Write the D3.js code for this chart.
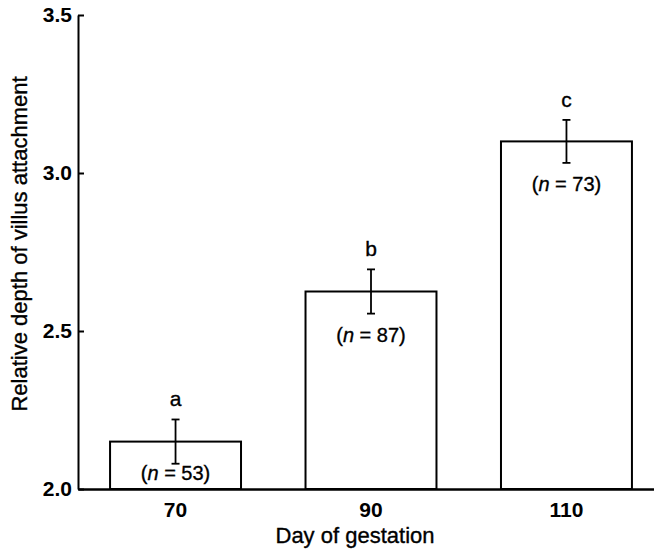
<!DOCTYPE html>
<html>
<head>
<meta charset="utf-8">
<script src="https://cdn.jsdelivr.net/npm/d3@7"></script>
<style>
  html, body { margin: 0; padding: 0; background: #fff; }
  svg { display: block; }
  text { font-family: "Liberation Sans", Arial, Helvetica, sans-serif; fill: #000; }
  .reg { stroke: #000; stroke-width: 0.35px; }
</style>
</head>
<body>
<svg id="chart" width="654" height="550"></svg>
<script>
// ---- data ----
const days = ["70", "90", "110"];
const meanDepth = [2.15, 2.625, 3.10];
const seDepth = [0.07, 0.07, 0.068];
const groupLetters = ["a", "b", "c"];
const nValues = [53, 87, 73];
const yTicks = [2.0, 2.5, 3.0, 3.5];
const xTitle = "Day of gestation";
const yTitle = "Relative depth of villus attachment";

// ---- layout ----
const svg = d3.select("#chart");
const x0 = 78, xEnd = 664, y0 = 489, yTop = 15;

const x = d3.scaleBand().domain(days).range([x0, xEnd])
  .paddingInner(0.33).paddingOuter(0.164);
const y = d3.scaleLinear().domain([2.0, 3.5]).range([y0, yTop]);

const data = days.map((d, i) => ({ day: d, mean: meanDepth[i], se: seDepth[i], letter: groupLetters[i], n: nValues[i] }));

// bars
svg.append("g").selectAll("rect").data(data).join("rect")
  .attr("x", d => x(d.day))
  .attr("y", d => y(d.mean))
  .attr("width", x.bandwidth())
  .attr("height", d => y(2.0) - y(d.mean))
  .attr("fill", "#fff")
  .attr("stroke", "#000")
  .attr("stroke-width", 2);

// error bars
const eb = svg.append("g").attr("stroke", "#000").attr("stroke-width", 1.8);
data.forEach(d => {
  const cx = x(d.day) + x.bandwidth() / 2;
  eb.append("line").attr("x1", cx).attr("x2", cx).attr("y1", y(d.mean + d.se)).attr("y2", y(d.mean - d.se));
  eb.append("line").attr("x1", cx - 4).attr("x2", cx + 4).attr("y1", y(d.mean + d.se)).attr("y2", y(d.mean + d.se));
  eb.append("line").attr("x1", cx - 4).attr("x2", cx + 4).attr("y1", y(d.mean - d.se)).attr("y2", y(d.mean - d.se));
});

// significance letters
svg.append("g").selectAll("text").data(data).join("text")
  .attr("class", "reg")
  .attr("x", d => x(d.day) + x.bandwidth() / 2)
  .attr("y", d => y(d.mean + d.se) - 13)
  .attr("text-anchor", "middle")
  .attr("font-size", 21)
  .text(d => d.letter);

// n labels
const nl = svg.append("g").selectAll("text").data(data).join("text")
  .attr("class", "reg")
  .attr("x", d => x(d.day) + x.bandwidth() / 2)
  .attr("y", d => Math.min(y(d.mean) + 50, y0 - 9))
  .attr("text-anchor", "middle")
  .attr("font-size", 20);
nl.append("tspan").text("(");
nl.append("tspan").attr("font-style", "italic").text("n");
nl.append("tspan").text(d => " = " + d.n + ")");

// y axis
const yAxis = svg.append("g").attr("transform", `translate(${x0},0)`)
  .call(d3.axisLeft(y).tickValues(yTicks).tickFormat(d3.format(".1f")).tickSize(-6).tickSizeOuter(0).tickPadding(6));
yAxis.selectAll("text").attr("font-size", 21).attr("font-weight", "bold")
  .attr("font-family", "'Liberation Sans', Arial, sans-serif").attr("fill", "#000");
yAxis.selectAll("line").attr("stroke", "#000").attr("stroke-width", 2);
yAxis.select(".domain").attr("stroke", "#000").attr("stroke-width", 2);

// x axis
const xAxis = svg.append("g").attr("transform", `translate(0,${y0})`)
  .call(d3.axisBottom(x).tickSize(0).tickSizeOuter(0).tickPadding(13));
xAxis.selectAll("text").attr("font-size", 21).attr("font-weight", "bold")
  .attr("font-family", "'Liberation Sans', Arial, sans-serif").attr("fill", "#000");
xAxis.select(".domain").attr("stroke", "#000").attr("stroke-width", 2.5);

// titles
svg.append("text")
  .attr("class", "reg")
  .attr("x", 355).attr("y", 543)
  .attr("text-anchor", "middle")
  .attr("font-size", 22)
  .text(xTitle);

svg.append("text")
  .attr("class", "reg")
  .attr("transform", "translate(27,244) rotate(-90)")
  .attr("text-anchor", "middle")
  .attr("font-size", 22)
  .text(yTitle);
</script>
</body>
</html>
